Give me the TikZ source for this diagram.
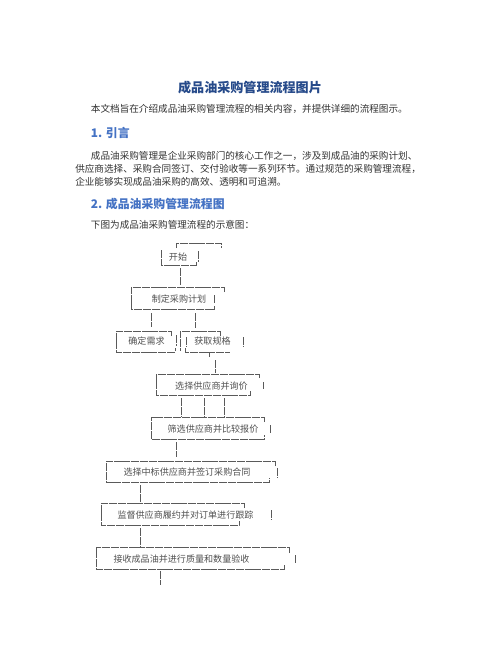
\documentclass[tikz,border=0pt]{standalone}
\usepackage{fontspec}
\setmainfont{Liberation Serif}
\newfontfamily\cjk{Noto Sans CJK SC}
\definecolor{titleblue}{RGB}{38,74,138}
\definecolor{headblue}{RGB}{68,114,196}
\definecolor{bodyc}{RGB}{50,50,50}
\definecolor{lnc}{RGB}{90,90,90}
\definecolor{dtxt}{RGB}{80,80,80}
\begin{document}
\begin{tikzpicture}[x=0.75pt,y=-0.75pt,
 titletext/.style={font=\cjk\bfseries\fontsize{9.8pt}{11pt}\selectfont, text=titleblue, inner sep=0},
 headtext/.style={font=\cjk\bfseries\fontsize{8.9pt}{10pt}\selectfont, text=headblue, inner sep=0, anchor=west},
 bodytext/.style={font=\cjk\fontsize{7.2pt}{9pt}\selectfont, text=bodyc, inner sep=0, anchor=west},
 dtext/.style={font=\cjk\fontsize{6.8pt}{8pt}\selectfont, text=dtxt, inner sep=0},
 ln/.style={draw=lnc, line width=0.6pt, dash pattern=on 6pt off 0.6pt}]
\useasboundingbox[fill=white] (0,0) rectangle (502,649);

% header text
\node[titletext] (title) at (250,88) {成品油采购管理流程图片};
\node[bodytext] (intro) at (90.7,109) {本文档旨在介绍成品油采购管理流程的相关内容，并提供详细的流程图示。};
\node[headtext] (h1) at (90.7,133) {1. 引言};
\node[bodytext] (p1) at (90.7,155.5) {成品油采购管理是企业采购部门的核心工作之一，涉及到成品油的采购计划、};
\node[bodytext] (p2) at (75,169) {供应商选择、采购合同签订、交付验收等一系列环节。通过规范的采购管理流程，};
\node[bodytext] (p3) at (75,181.5) {企业能够实现成品油采购的高效、透明和可追溯。};
\node[headtext] (h2) at (90.7,204) {2. 成品油采购管理流程图};
\node[bodytext] (p4) at (90.7,225) {下图为成品油采购管理流程的示意图：};

% diagram texts
\node[dtext] (tA) at (178,257) {开始};
\node[dtext] (tB) at (179,299) {制定采购计划};
\node[dtext] (tC) at (146.5,341) {确定需求};
\node[dtext] (tD) at (212.5,341) {获取规格};
\node[dtext] (tE) at (211.5,386) {选择供应商并询价};
\node[dtext] (tF) at (213,429) {筛选供应商并比较报价};
\node[dtext] (tG) at (187,472.5) {选择中标供应商并签订采购合同};
\node[dtext] (tH) at (185.5,515.5) {监督供应商履约并对订单进行跟踪};
\node[dtext] (tI) at (181.5,559) {接收成品油并进行质量和数量验收};

% box A
\draw[ln] (176,248)--(176,243)--(221,243)--(221,248);
\draw[ln] (161,250)--(161,265)--(196,265)--(196,262);
\draw[ln] (198,251)--(198,262);
% box B
\draw[ln] (224,292)--(224,287)--(131,287)--(131,309)--(214,309)--(214,306);
\draw[ln] (214,295)--(214,303);
% box C
\draw[ln] (171,336)--(171,331)--(116,331)--(116,352)--(175,352)--(175,348);
\draw[ln] (176,335)--(176,346);
% box D
\draw[ln] (220,336)--(220,331)--(180,331)--(180,351);
\draw[ln] (186,337)--(186,347);
\draw[ln] (185,348)--(185,352)--(230,352);
\draw[ln] (243,337)--(243,347);
\draw[ln] (209,352)--(209,357);
% box E
\draw[ln] (259,378)--(259,374)--(156,374)--(156,395)--(250,395)--(250,391);
\draw[ln] (263,382)--(263,389);
% box F
\draw[ln] (264,422)--(264,417)--(151,417)--(151,439)--(264,439)--(264,435);
\draw[ln] (270,425)--(270,433);
% box G
\draw[ln] (275,466)--(275,461)--(106,461)--(106,482)--(269,482)--(269,478);
\draw[ln] (277,468)--(277,477);
% box H
\draw[ln] (244,508)--(244,503)--(101,503)--(101,525)--(239,525)--(239,521);
\draw[ln] (271,510)--(271,520);
% box I
\draw[ln] (289,553)--(289,547)--(96,547)--(96,569)--(284,569)--(284,565);
\draw[ln] (295,555)--(295,563);

% connectors
\coordinate (a1) at (180,268); \coordinate (b0) at (180,285);
\coordinate (b1) at (151,313); \coordinate (c0) at (151,327);
\coordinate (b2) at (195,313); \coordinate (d0) at (195,328);
\coordinate (d1) at (215,360); \coordinate (e0) at (215,373);
\coordinate (e1) at (181,398); \coordinate (f1) at (181,416);
\coordinate (e2) at (204,398); \coordinate (f2) at (204,416);
\coordinate (e3) at (224,398); \coordinate (f3) at (224,416);
\coordinate (f4) at (176,442); \coordinate (g0) at (176,457);
\coordinate (g1) at (140,485); \coordinate (h0) at (140,502);
\coordinate (h1) at (140,528); \coordinate (i0) at (140,546);
\coordinate (i1) at (160,571); \coordinate (end) at (160,585);
\draw[ln] (a1)--(b0);
\draw[ln] (b1)--(c0);
\draw[ln] (b2)--(d0);
\draw[ln] (d1)--(e0);
\draw[ln] (e1)--(f1);
\draw[ln] (e2)--(f2);
\draw[ln] (e3)--(f3);
\draw[ln] (f4)--(g0);
\draw[ln] (g1)--(h0);
\draw[ln] (h1)--(i0);
\draw[ln] (i1)--(end);
\end{tikzpicture}
\end{document}
